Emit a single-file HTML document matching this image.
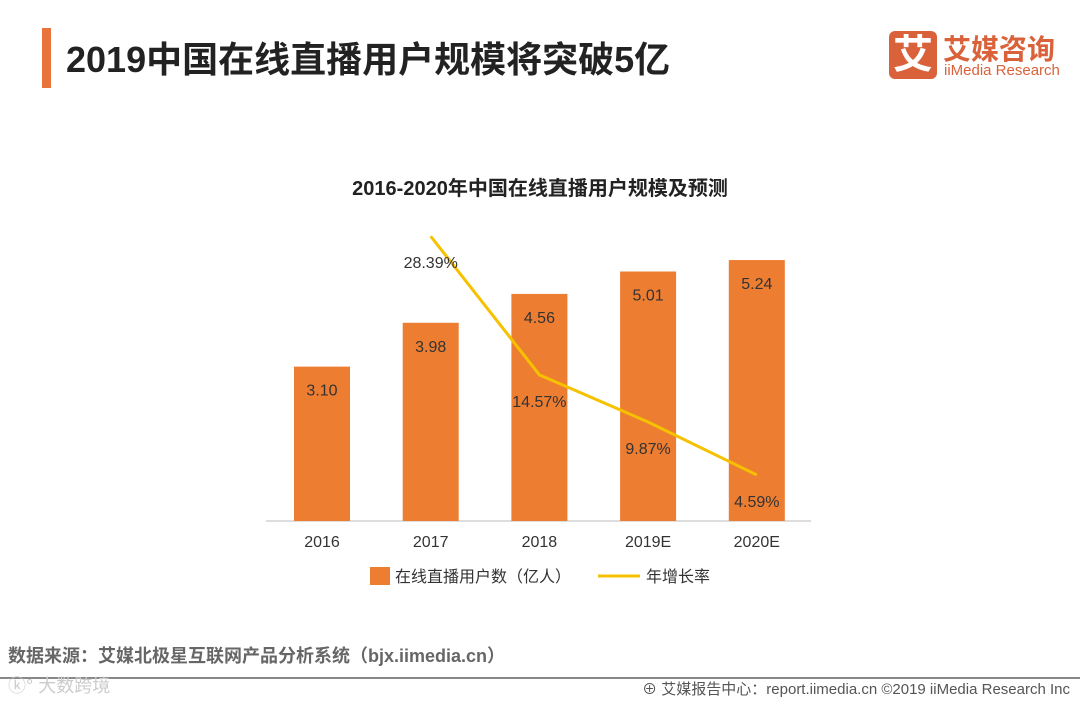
<!DOCTYPE html>
<html><head><meta charset="utf-8"><style>
body{margin:0;width:1080px;height:702px;background:#fff;overflow:hidden;font-family:"Liberation Sans","Noto Sans CJK SC",sans-serif;position:relative}
.abs{position:absolute}
</style></head><body>
<div class="abs" style="left:42px;top:28px;width:9px;height:60px;background:#e8743b"></div>
<div class="abs" style="left:66px;top:31px;font-size:36px;font-weight:bold;color:#222;white-space:nowrap">2019中国在线直播用户规模将突破5亿</div>
<div class="abs" style="left:889px;top:31px;width:48px;height:48px;background:#d9623a;border-radius:6px;color:#fff;font-size:40px;font-weight:bold;text-align:center;line-height:48px">艾</div>
<div class="abs" style="left:943px;top:28px;font-size:28px;font-weight:bold;color:#d9623a;white-space:nowrap">艾媒咨询</div>
<div class="abs" style="left:944px;top:62px;font-size:15px;color:#d9623a;white-space:nowrap">iiMedia Research</div>
<svg class="abs" style="left:0;top:0" width="1080" height="702" id="chart">
<text x="540" y="195" text-anchor="middle" font-size="20" font-weight="bold" fill="#222">2016-2020年中国在线直播用户规模及预测</text>
<line x1="266" y1="521" x2="811" y2="521" stroke="#bbb" stroke-width="1"/>
<g id="bars"></g><g id="line"></g><g id="xl"></g>
<rect x="370" y="567" width="20" height="18" fill="#ed7d31"/>
<text x="395" y="582" font-size="16" fill="#333">在线直播用户数（亿人）</text>
<line x1="598" y1="576" x2="640" y2="576" stroke="#f5c100" stroke-width="3"/>
<text x="646" y="582" font-size="16" fill="#333">年增长率</text>
<line x1="0" y1="678" x2="1080" y2="678" stroke="#888" stroke-width="2"/>
<text x="8" y="662" font-size="18" font-weight="bold" fill="#666">数据来源：艾媒北极星互联网产品分析系统（bjx.iimedia.cn）</text>
<text x="8" y="692" font-size="18" fill="#ccc">ⓚ° 大数跨境</text>
<text x="1070" y="694" text-anchor="end" font-size="15" fill="#555">⊕ 艾媒报告中心：report.iimedia.cn   ©2019  iiMedia Research  Inc</text>
</svg>
<script>
const categories=["2016","2017","2018","2019E","2020E"];
const users=[3.10,3.98,4.56,5.01,5.24];
const growth=[null,28.39,14.57,9.87,4.59];
const NS="http://www.w3.org/2000/svg";
const x0=322,step=108.7,base=521;
const xPos=i=>x0+i*step;
const yBar=v=>base-v*49.8;
const yLine=v=>base-v*10.03;
function mk(t,a,p){const e=document.createElementNS(NS,t);for(const k in a)e.setAttribute(k,a[k]);p.appendChild(e);return e;}
const gb=document.getElementById('bars'),gl=document.getElementById('line'),gx=document.getElementById('xl');
users.forEach((v,i)=>{
 const r=mk('rect',{x:xPos(i)-28,y:yBar(v),width:56,height:base-yBar(v),fill:'#ed7d31'},gb);
 
 
 const t=mk('text',{x:xPos(i),y:yBar(v)+29,'text-anchor':'middle','font-size':16,fill:'#333'},gb);t.textContent=v.toFixed(2);
 
 
 const c=mk('text',{x:xPos(i),y:547,'text-anchor':'middle','font-size':16,fill:'#333'},gx);c.textContent=categories[i];
 
 
});
let pts=[];
growth.forEach((v,i)=>{if(v!==null)pts.push(xPos(i)+','+yLine(v));});
const pl=mk('polyline',{points:pts.join(' '),fill:'none',stroke:'#f5c100','stroke-width':3},gl);


growth.forEach((v,i)=>{if(v===null)return;
 const t=mk('text',{x:xPos(i),y:yLine(v)+32,'text-anchor':'middle','font-size':16,fill:'#333'},gl);t.textContent=v.toFixed(2)+'%';
 
 
});
</script>
</body></html>
